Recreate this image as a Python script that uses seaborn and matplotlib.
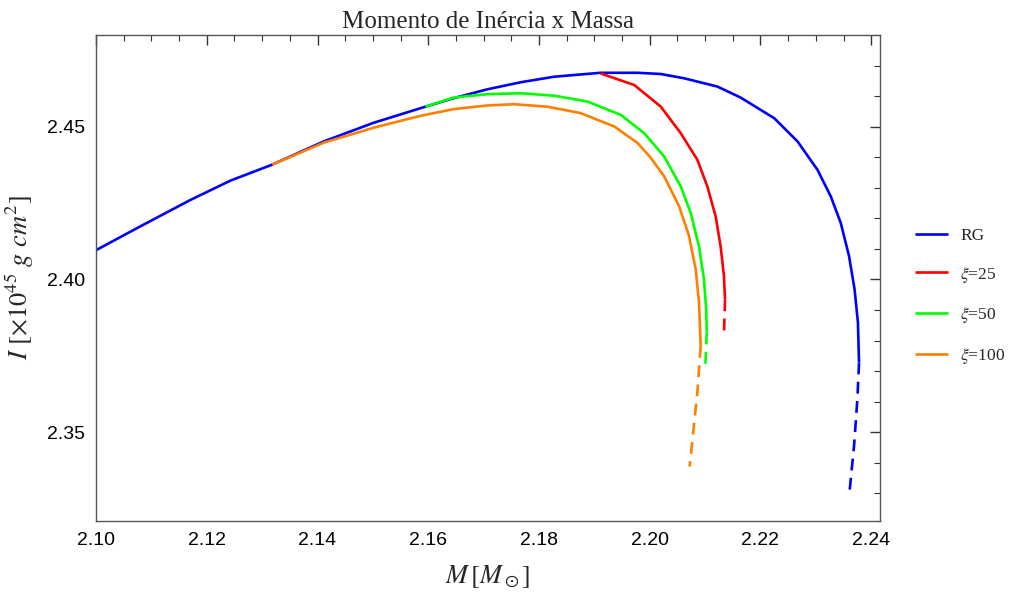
import numpy as np
import pandas as pd
import matplotlib
matplotlib.use("Agg")
import matplotlib.pyplot as plt
import seaborn as sns
from matplotlib.ticker import MultipleLocator

# ---- data ----
rg_M = [2.1000, 2.1080, 2.1171, 2.1243, 2.1318, 2.1411, 2.1501, 2.1586, 2.1646, 2.1707,
        2.1767, 2.1827, 2.1911, 2.1978, 2.2020, 2.2062, 2.2122, 2.2164, 2.2225, 2.2267,
        2.2303, 2.2327, 2.2345, 2.2360, 2.2370, 2.2376, 2.2378]
rg_I = [2.4096, 2.4174, 2.4261, 2.4324, 2.4376, 2.4452, 2.4513, 2.4561, 2.4594, 2.4623,
        2.4646, 2.4664, 2.4677, 2.4677, 2.4673, 2.4659, 2.4632, 2.4596, 2.4528, 2.4452,
        2.4359, 2.4272, 2.4185, 2.4076, 2.3967, 2.3859, 2.3728]
rg_dash_M = [2.2378, 2.2375, 2.2369, 2.2361]
rg_dash_I = [2.3728, 2.3608, 2.3455, 2.3308]

x25_M = [2.1911, 2.1972, 2.2020, 2.2056, 2.2086, 2.2104, 2.2119, 2.2128, 2.2134, 2.2136]
x25_I = [2.4675, 2.4637, 2.4566, 2.4479, 2.4392, 2.4305, 2.4207, 2.4109, 2.4011, 2.3935]
x25_dash_M = [2.2136, 2.2134]
x25_dash_I = [2.3935, 2.3815]

x50_M = [2.1595, 2.1646, 2.1707, 2.1767, 2.1827, 2.1887, 2.1948, 2.1990, 2.2026, 2.2056,
         2.2074, 2.2089, 2.2098, 2.2102, 2.2103]
x50_I = [2.4566, 2.4596, 2.4607, 2.4610, 2.4602, 2.4583, 2.4539, 2.4479, 2.4403, 2.4305,
         2.4218, 2.4109, 2.4000, 2.3902, 2.3826]
x50_dash_M = [2.2103, 2.2100]
x50_dash_I = [2.3826, 2.3700]

x100_M = [2.1318, 2.1411, 2.1501, 2.1586, 2.1646, 2.1707, 2.1755, 2.1815, 2.1875, 2.1936,
          2.1978, 2.2002, 2.2026, 2.2053, 2.2071, 2.2083, 2.2089, 2.2092]
x100_I = [2.4376, 2.4448, 2.4497, 2.4536, 2.4558, 2.4570, 2.4574, 2.4566, 2.4545, 2.4501,
          2.4447, 2.4398, 2.4338, 2.4240, 2.4142, 2.4033, 2.3924, 2.3782]
x100_dash_M = [2.2092, 2.2086, 2.2072]
x100_dash_I = [2.3782, 2.3630, 2.3387]

labels = ["RG", r"$\xi$=25", r"$\xi$=50", r"$\xi$=100"]
colors = ["#0000ff", "#ff0000", "#00ff00", "#ff8000"]

series = [
    (rg_M, rg_I, rg_dash_M, rg_dash_I),
    (x25_M, x25_I, x25_dash_M, x25_dash_I),
    (x50_M, x50_I, x50_dash_M, x50_dash_I),
    (x100_M, x100_I, x100_dash_M, x100_dash_I),
]

# ---- plot ----
sns.set_theme(style="white")
plt.rcParams["font.family"] = ["Liberation Sans", "DejaVu Sans"]
plt.rcParams["mathtext.fontset"] = "stix"
plt.rcParams["lines.solid_joinstyle"] = "round"
plt.rcParams["lines.solid_capstyle"] = "butt"

fig = plt.figure(figsize=(10.11, 5.92), dpi=100)
ax = fig.add_axes([0.095, 0.12, 0.7755, 0.821])

for (m, i, dm, di), lab, col in zip(series, labels, colors):
    sns.lineplot(x=m, y=i, ax=ax, sort=False, estimator=None, color=col,
                 linewidth=1.9, label=lab)
    sns.lineplot(x=dm, y=di, ax=ax, sort=False, estimator=None, color=col,
                 linewidth=1.9, linestyle=(0, (4.5, 2.8)), label="_nolegend_")

ax.set_xlim(2.10, 2.2416)
ax.set_ylim(2.3209, 2.4801)
ax.xaxis.set_major_locator(MultipleLocator(0.02))
ax.xaxis.set_minor_locator(MultipleLocator(0.005))
ax.yaxis.set_major_locator(MultipleLocator(0.05))
ax.yaxis.set_minor_locator(MultipleLocator(0.01))
ax.xaxis.set_major_formatter(plt.FormatStrFormatter("%.2f"))
ax.yaxis.set_major_formatter(plt.FormatStrFormatter("%.2f"))

ax.tick_params(which="both", direction="in", top=True, right=True,
               labelsize=14, colors="#333333", labelcolor="black")
ax.tick_params(which="major", length=7, width=1.0, pad=8)
ax.tick_params(which="minor", length=4, width=0.8)
for sp in ax.spines.values():
    sp.set_color("#555555")
    sp.set_linewidth(1.0)

ax.set_title("Momento de Inércia x Massa", fontfamily="Liberation Serif",
             fontsize=18, pad=5)
ax.set_xlabel(r"$M\,[M_\odot]$", fontsize=19, labelpad=10)
ax.set_ylabel(r"$I\ [\times 10^{45}\ g\ cm^{2}]$", fontsize=19, labelpad=8)

leg = ax.legend(loc="center left", bbox_to_anchor=(1.0446, 0.461), frameon=False,
                prop={"family": "Liberation Serif", "size": 12.5},
                handlelength=1.9, labelspacing=1.2, handletextpad=0.7,
                borderaxespad=0, borderpad=0)

fig.savefig("out.png", dpi=100)
